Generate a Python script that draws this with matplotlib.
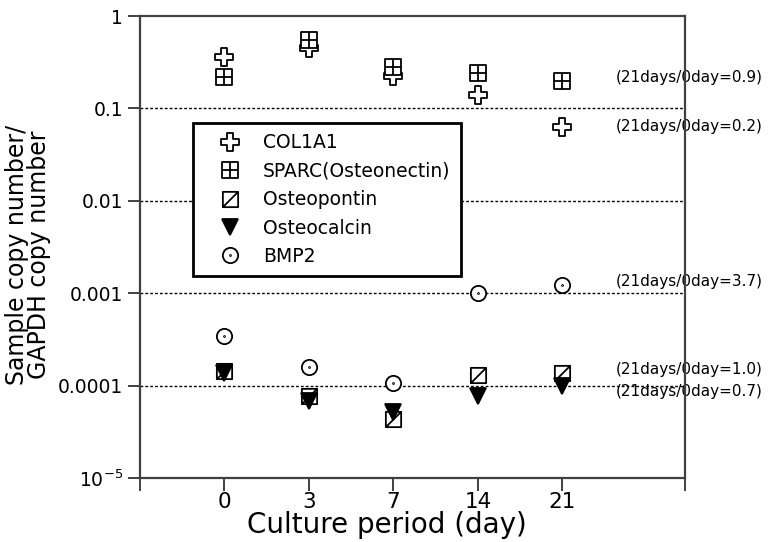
import numpy as np
import matplotlib
matplotlib.use("Agg")
import matplotlib.pyplot as plt
from matplotlib.path import Path
from matplotlib.lines import Line2D

# ─── données ─────────────────────────────────────────────────────────────────
jours = ["0", "3", "7", "14", "21"]

col1a1      = [0.36, 0.45, 0.225, 0.14, 0.063]
sparc       = [0.22, 0.55, 0.28, 0.24, 0.20]
osteopontin = [1.44e-4, 7.7e-5, 4.35e-5, 1.29e-4, 1.36e-4]
osteocalcin = [1.38e-4, 6.8e-5, 5.2e-5, 7.7e-5, 1.0e-4]
bmp2        = [3.44e-4, 1.58e-4, 1.06e-4, 1.0e-3, 1.24e-3]

noms = ["COL1A1", "SPARC(Osteonectin)", "Osteopontin", "Osteocalcin", "BMP2"]
# rapport 21 jours / 0 jour, même ordre que noms
ratios = ["0.2", "0.9", "1.0", "0.7", "3.7"]

y_ticks = [1e-5, 1e-4, 1e-3, 1e-2, 1e-1, 1]
y_labels = [r"$10^{-5}$", "0.0001", "0.001", "0.01", "0.1", "1"]
grille = [1e-4, 1e-3, 1e-2, 1e-1]

# ─── marqueurs personnalisés ─────────────────────────────────────────────────
M, L, C = Path.MOVETO, Path.LINETO, Path.CLOSEPOLY

carre_croix = Path(
    [(-1, -1), (1, -1), (1, 1), (-1, 1), (-1, -1),
     (0, -1), (0, 1), (-1, 0), (1, 0)],
    [M, L, L, L, C, M, L, M, L])

carre_diag = Path(
    [(-1, -1), (1, -1), (1, 1), (-1, 1), (-1, -1),
     (-1, -1), (1, 1)],
    [M, L, L, L, C, M, L])

a, b = 0.38, 1.0
croix = Path(
    [(-a, -b), (a, -b), (a, -a), (b, -a), (b, a), (a, a), (a, b),
     (-a, b), (-a, a), (-b, a), (-b, -a), (-a, -a), (-a, -b)],
    [M] + [L] * 11 + [C])

cercle_point = Path.make_compound_path(Path.unit_circle(),
                                       Path.circle(radius=0.06))

plt.rcParams["font.family"] = ["DejaVu Sans"]
plt.rcParams["mathtext.fontset"] = "dejavusans"

fig = plt.figure(figsize=(7.70, 5.42), dpi=100)
ax = fig.add_axes([140 / 770, 64 / 542, 545 / 770, 462 / 542])

x = np.arange(1, len(jours) + 1)

styles = [
    (col1a1, croix, "white", 13),
    (sparc, carre_croix, "white", 11),
    (osteopontin, carre_diag, "white", 11),
    (osteocalcin, "v", "black", 11),
    (bmp2, cercle_point, "white", 11),
]

poignees = []
for (vals, mk, fc, ms), nom in zip(styles, noms):
    ax.plot(x, vals, linestyle="none", marker=mk, markersize=ms,
            markerfacecolor=fc, markeredgecolor="black",
            markeredgewidth=1.3, zorder=3, clip_on=False)
    poignees.append(Line2D([], [], linestyle="none", marker=mk,
                           markersize=ms, markerfacecolor=fc,
                           markeredgecolor="black", markeredgewidth=1.3,
                           label=nom))

for g in grille:
    ax.axhline(g, color="black", linewidth=1, linestyle=(0, (2, 1.5)),
               zorder=1)

# annotations 21 jours / 0 jour
series = [col1a1, sparc, osteopontin, osteocalcin, bmp2]
decalages = [0, 2, 3, -4, 2]
for vals, r, dy in zip(series, ratios, decalages):
    ax.annotate(f"(21days/0day={r})", xy=(x[-1], vals[-1]),
                xytext=(38, dy), textcoords="offset points",
                ha="left", va="center", fontsize=11, color="black",
                annotation_clip=False, zorder=2)

ax.set_yscale("log")
ax.set_ylim(1e-5, 1)
ax.set_yticks(y_ticks)
ax.set_yticklabels(y_labels)
ax.yaxis.set_minor_locator(matplotlib.ticker.NullLocator())

ax.set_xlim(0, 6.45)
ax.set_xticks([0] + list(x) + [6.45])
ax.set_xticklabels([""] + jours + [""])

ax.tick_params(axis="y", direction="out", length=9, width=1.3,
               color="#333333", labelsize=13.5, pad=3)
ax.tick_params(axis="x", direction="out", length=9, width=1.3,
               color="#333333", labelsize=15.5, pad=1)

for s in ax.spines.values():
    s.set_color("#404040")
    s.set_linewidth(1.6)
    s.set_zorder(5)

ax.set_xlabel("Culture period (day)", fontsize=20)
ax.xaxis.set_label_coords(0.453, -0.072)
ax.set_ylabel("Sample copy number/\nGAPDH copy number", fontsize=17,
              linespacing=0.9)
ax.yaxis.set_label_coords(-0.163, 0.483)

leg = ax.legend(handles=poignees, loc="upper left",
                bbox_to_anchor=(0.097, 0.768), borderaxespad=0,
                fancybox=False, edgecolor="black", framealpha=1,
                fontsize=13.5, labelspacing=0.5, handletextpad=0.3,
                borderpad=0.55, handlelength=2.9)
leg.get_frame().set_linewidth(2)
leg.set_zorder(4)

fig.savefig("out.png", dpi=100)
